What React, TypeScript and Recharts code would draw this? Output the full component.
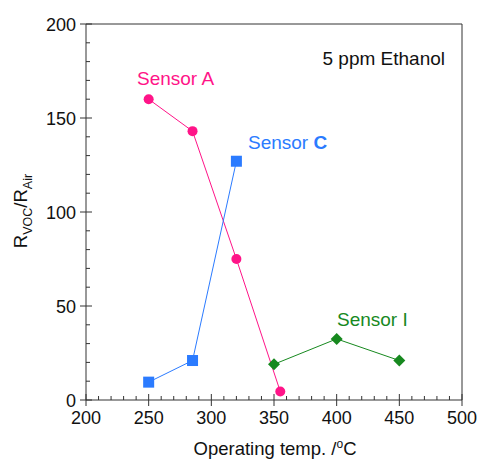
import { Line, LineChart, ReferenceLine, XAxis, YAxis } from "recharts";

const sensorA = [
  { temp: 250, ratio: 160 },
  { temp: 285, ratio: 143 },
  { temp: 320, ratio: 75 },
  { temp: 355, ratio: 4.5 },
];
const sensorC = [
  { temp: 250, ratio: 9.5 },
  { temp: 285, ratio: 21 },
  { temp: 320, ratio: 127 },
];
const sensorI = [
  { temp: 350, ratio: 19 },
  { temp: 400, ratio: 32.5 },
  { temp: 450, ratio: 21 },
];

const xTicks = [
  200, 210, 220, 230, 240, 250, 260, 270, 280, 290, 300, 310, 320, 330, 340, 350,
  360, 370, 380, 390, 400, 410, 420, 430, 440, 450, 460, 470, 480, 490, 500,
];
const yTicks = [
  0, 10, 20, 30, 40, 50, 60, 70, 80, 90, 100, 110, 120, 130, 140, 150, 160, 170,
  180, 190, 200,
];

const FONT = "'Liberation Sans', Arial, Helvetica, sans-serif";
const AXIS = "#333";
const PINK = "#ff1488";
const BLUE = "#2b7bff";
const GREEN = "#17891f";

const XTick = ({ x, y, payload }: any) => {
  const v = payload.value;
  const major = v % 50 === 0;
  return (
    <g>
      <line x1={x} x2={x} y1={y - (major ? 6 : 4)} y2={y + (major ? 6 : 0)} stroke={AXIS} />
      {major && (
        <text x={x} y={y + 24} textAnchor="middle" fontSize={18} fontFamily={FONT} fill="#111">
          {v}
        </text>
      )}
    </g>
  );
};

const YTick = ({ x, y, payload }: any) => {
  const v = payload.value;
  const major = v % 50 === 0;
  return (
    <g>
      <line x1={x - (major ? 6 : 0)} x2={x + (major ? 6 : 4)} y1={y} y2={y} stroke={AXIS} />
      {major && (
        <text x={x - 10} y={y + 6.5} textAnchor="end" fontSize={18} fontFamily={FONT} fill="#111">
          {v}
        </text>
      )}
    </g>
  );
};

const circleDot = (p: any) => (
  <circle key={`a${p.index}`} cx={p.cx} cy={p.cy} r={5} fill={PINK} />
);
const squareDot = (p: any) => (
  <rect key={`c${p.index}`} x={p.cx - 5.5} y={p.cy - 5.5} width={11} height={11} fill={BLUE} />
);
const diamondDot = (p: any) => (
  <path
    key={`i${p.index}`}
    d={`M${p.cx},${p.cy - 6}L${p.cx + 6},${p.cy}L${p.cx},${p.cy + 6}L${p.cx - 6},${p.cy}Z`}
    fill={GREEN}
  />
);

export default function App() {
  return (
    <div style={{ position: "absolute", left: 0, top: 0 }}>
      <LineChart
        width={477}
        height={460}
        margin={{ top: 24, right: 15, bottom: 0, left: 0 }}
      >
        <XAxis
          type="number"
          dataKey="temp"
          domain={[200, 500]}
          ticks={xTicks}
          interval={0}
          height={60}
          tickSize={0}
          tickMargin={0}
          tick={<XTick />}
          axisLine={{ stroke: AXIS }}
          allowDuplicatedCategory={false}
        />
        <YAxis
          type="number"
          dataKey="ratio"
          domain={[0, 200]}
          ticks={yTicks}
          interval={0}
          width={86}
          tickSize={0}
          tickMargin={0}
          tick={<YTick />}
          axisLine={{ stroke: AXIS }}
        />
        <ReferenceLine y={200} stroke={AXIS} />
        <ReferenceLine x={500} stroke={AXIS} />
        <Line
          data={sensorA}
          dataKey="ratio"
          stroke={PINK}
          strokeWidth={1}
          dot={circleDot}
          isAnimationActive={false}
        />
        <Line
          data={sensorC}
          dataKey="ratio"
          stroke={BLUE}
          strokeWidth={1}
          dot={squareDot}
          isAnimationActive={false}
        />
        <Line
          data={sensorI}
          dataKey="ratio"
          stroke={GREEN}
          strokeWidth={1}
          dot={diamondDot}
          isAnimationActive={false}
        />
        <g fontFamily={FONT}>
          <text x={445} y={65} textAnchor="end" fontSize={19} fill="#111">
            5 ppm Ethanol
          </text>
          <text x={137} y={85} fontSize={19} fill={PINK}>
            Sensor A
          </text>
          <text x={248} y={149} fontSize={19} fill={BLUE}>
            Sensor <tspan fontWeight="bold">C</tspan>
          </text>
          <text x={337} y={326} fontSize={19} fill={GREEN}>
            Sensor I
          </text>
          <text x={275} y={455} textAnchor="middle" fontSize={18.5} fill="#111">
            Operating temp. /<tspan fontSize={12} dy={-7}>o</tspan>
            <tspan dy={7}>C</tspan>
          </text>
          <text
            x={0}
            y={0}
            transform="translate(27,211) rotate(-90)"
            textAnchor="middle"
            fontSize={18.5}
            fill="#111"
          >
            R<tspan fontSize={12.5} dy={5}>VOC</tspan>
            <tspan dy={-5}>/R</tspan>
            <tspan fontSize={12.5} dy={5}>Air</tspan>
          </text>
        </g>
      </LineChart>
    </div>
  );
}
